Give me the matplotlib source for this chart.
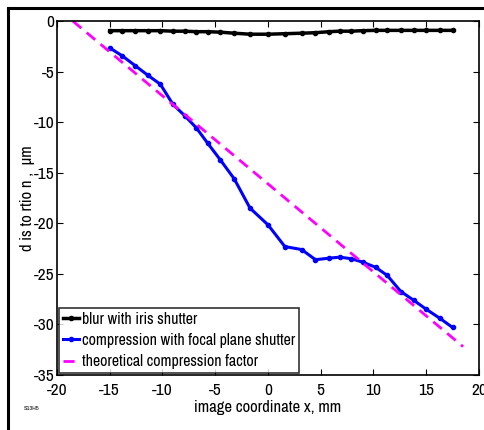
import matplotlib
matplotlib.use('Agg')
import matplotlib.pyplot as plt
from matplotlib import font_manager
from matplotlib.lines import Line2D

# x positions of the measurements (mm)
xVals = [-15.0, -13.8, -12.6, -11.4, -10.2, -9.0, -7.9, -6.8, -5.7, -4.5, -3.2,
         -1.7, 0.0, 1.6, 3.2, 4.5, 5.8, 6.8, 7.9, 9.0, 10.2, 11.3, 12.6, 13.8,
         15.0, 16.3, 17.5]

# blur with iris shutter (um)
blurVals = [-0.95, -0.95, -0.95, -0.95, -0.95, -1.0, -1.0, -1.05, -1.05, -1.1,
            -1.2, -1.3, -1.3, -1.25, -1.2, -1.15, -1.05, -1.0, -1.0, -0.95,
            -0.92, -0.92, -0.92, -0.92, -0.92, -0.92, -0.92]

# compression with focal plane shutter (um)
compVals = [-2.65, -3.45, -4.4, -5.35, -6.25, -8.25, -9.35, -10.55, -12.1,
            -13.75, -15.6, -18.5, -20.15, -22.3, -22.6, -23.6, -23.45, -23.35,
            -23.5, -23.85, -24.35, -25.15, -26.75, -27.6, -28.5, -29.4, -30.3]

# theoretical compression factor
theoryX = [-18.5, 18.5]
theoryY = [0.0, -32.2]

# pick a narrow sans font if one is installed
fonts = font_manager.fontManager.ttflist
narrow = [f.name for f in fonts if 'Narrow' in f.name or 'Condensed' in f.name]
condensed = [f.name for f in fonts if f.stretch in ('condensed', 'semi-condensed', 'extra-condensed')]
if narrow:
    plt.rcParams['font.family'] = [narrow[0], 'DejaVu Sans']
elif condensed:
    plt.rcParams['font.family'] = [condensed[0], 'DejaVu Sans']
    plt.rcParams['font.stretch'] = 'condensed'
else:
    plt.rcParams['font.family'] = ['Liberation Sans', 'DejaVu Sans']
plt.rcParams['axes.unicode_minus'] = False

fig = plt.figure(figsize=(4.85, 4.30), dpi=100)
ax = fig.add_axes([0.1175, 0.128, 0.870, 0.823])

ax.plot(xVals, blurVals, '.-', color='black', lw=2.5, ms=6,
        label='blur with iris shutter')
ax.plot(xVals, compVals, '.-', color='blue', lw=2.2, ms=6,
        label='compression with focal plane shutter')
ax.plot(theoryX, theoryY, '--', color='magenta', lw=2, dashes=(4, 2.5),
        label='theoretical compression factor')

ax.set_xlim(-20, 20)
ax.set_ylim(-35, 0)
ax.set_xticks(range(-20, 21, 5))
ax.set_yticks(range(-35, 1, 5))
ax.tick_params(direction='in', top=True, right=True, length=4, labelsize=12.5)
ax.tick_params(axis='x', pad=6)
ax.tick_params(axis='y', pad=2)
for s in ax.spines.values():
    s.set_linewidth(1.2)

ax.set_xlabel('image coordinate x, mm', fontsize=12, labelpad=1)
ax.set_ylabel('d is to rtio n ,  \u00b5m', fontsize=12, labelpad=-1)

leg = ax.legend(loc='lower left', fontsize=11.5, frameon=True, fancybox=False,
                edgecolor='black', borderaxespad=0.1, handlelength=1.0,
                handletextpad=0.2, borderpad=0.25, labelspacing=0.4)
leg.get_frame().set_linewidth(1.2)

# outer frame of the figure (top and left edges)
fig.add_artist(Line2D([8 / 485, 1.0], [1 - 8 / 430, 1 - 8 / 430], color='black', lw=2.2))
fig.add_artist(Line2D([8 / 485, 8 / 485], [0.0, 1 - 8 / 430], color='black', lw=2.2))

fig.text(32 / 485, 1 - 409 / 430, 'S13H5', fontsize=4.5, ha='center', va='center')

plt.savefig('out.png', dpi=100)
